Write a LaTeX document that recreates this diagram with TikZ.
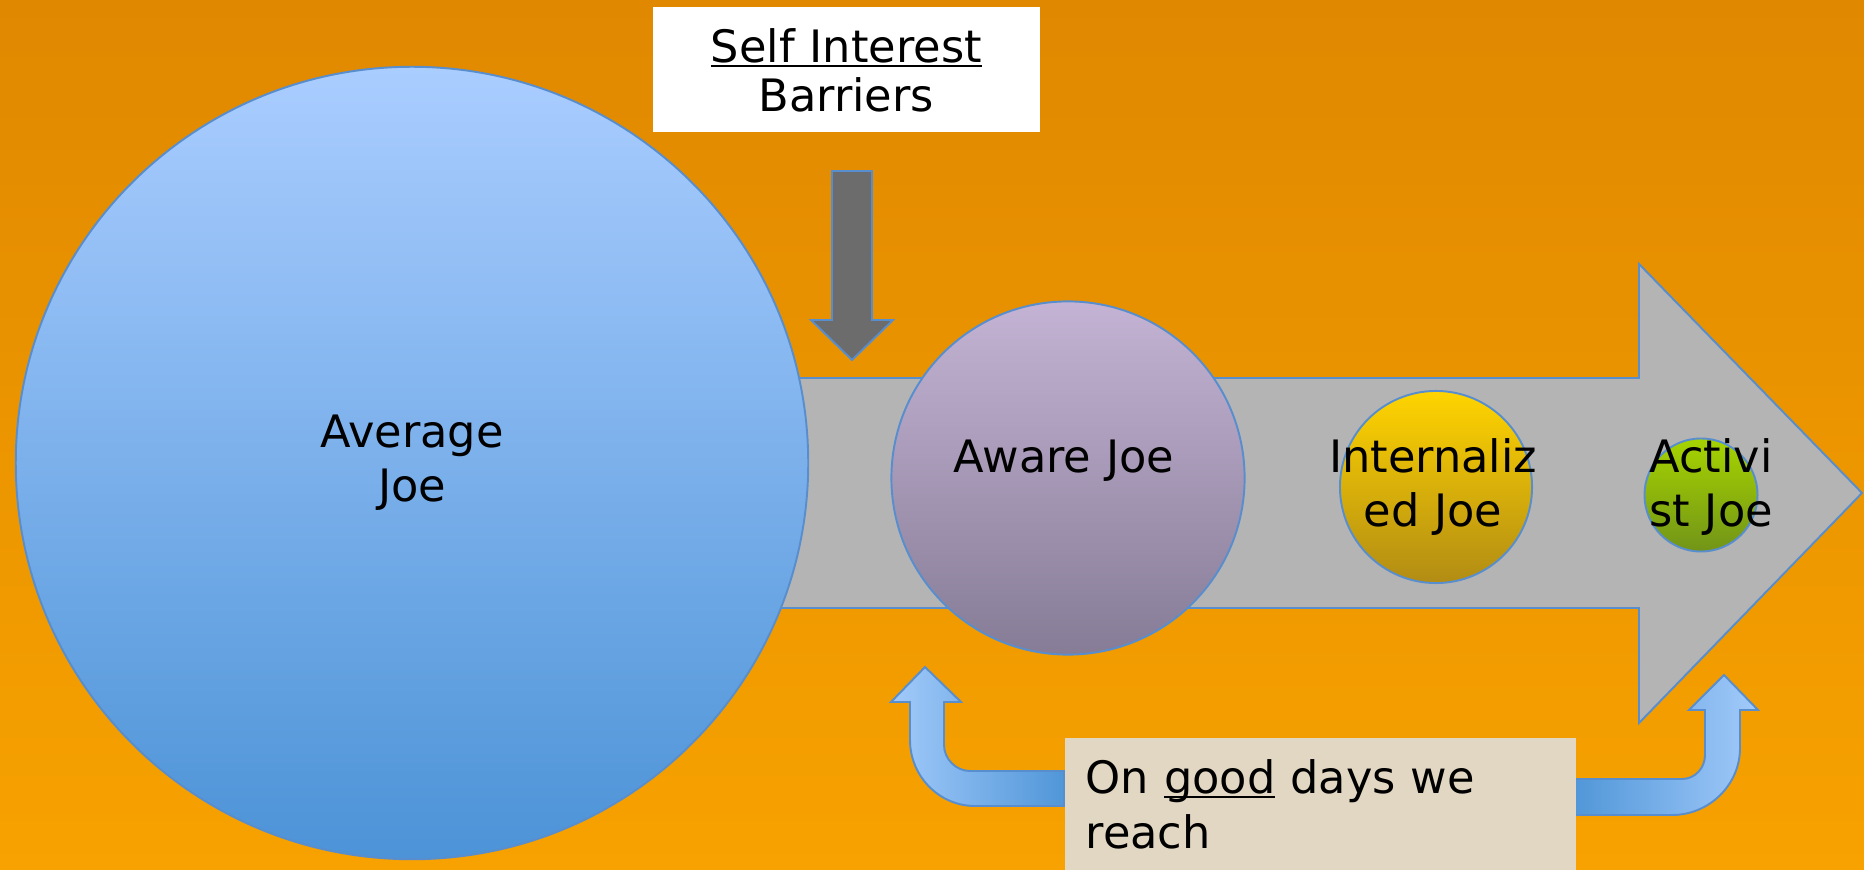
\documentclass[tikz,border=0pt]{standalone}
\usepackage{fontspec}
\setmainfont{DejaVu Sans}
\usepackage{tikz}
\usepackage{xcolor}

\definecolor{bgtop}{RGB}{224,136,0}
\definecolor{bgbottom}{RGB}{247,162,0}
\definecolor{edgeblue}{RGB}{88,142,205}
\definecolor{avgtop}{RGB}{170,205,255}
\definecolor{avgbottom}{RGB}{76,147,215}
\definecolor{awaretop}{RGB}{196,179,212}
\definecolor{awarebottom}{RGB}{134,124,150}
\definecolor{inttop}{RGB}{255,212,0}
\definecolor{intbottom}{RGB}{178,140,20}
\definecolor{acttop}{RGB}{166,212,0}
\definecolor{actbottom}{RGB}{114,148,24}
\definecolor{pathgray}{RGB}{180,180,180}
\definecolor{barriergray}{RGB}{108,108,108}
\definecolor{reachfill}{RGB}{226,215,194}
\definecolor{uplight}{RGB}{162,202,250}
\definecolor{updark}{RGB}{80,150,216}

\newcommand{\ulword}[1]{\setbox0\hbox{#1}\rlap{\rule[-1.1pt]{\wd0}{0.5pt}}\box0\relax}

\begin{document}
\begin{tikzpicture}[
    x=0.01cm, y=-0.01cm,
    outline/.style={draw=edgeblue, line width=0.55pt},
    joe/.style={circle, outline, inner sep=0pt},
    joetext/.style={font=\fontsize{12.7}{15.4}\selectfont, text width=3cm, align=center, anchor=base, inner sep=0pt},
    notebox/.style={anchor=north west, inner ysep=0.2cm, text height=0.36cm}
  ]
  \shade[top color=bgtop, bottom color=bgbottom] (0,0) rectangle (1864,870);
  \useasboundingbox (0,0) rectangle (1864,870);

  % pathway
  \draw[outline, fill=pathgray] (760,378) -- (1639,378) -- (1639,264) -- (1862,493)
    -- (1639,723) -- (1639,608) -- (760,608) -- cycle;

  % reach arrows
  \draw[outline, left color=uplight, right color=updark]
    (1064,771) -- (970,771) .. controls (956,771) and (944,759) .. (944,745)
    -- (944,702) -- (961,702) -- (925,667) -- (891,702) -- (910,702) -- (910,740)
    .. controls (910,776) and (939,806) .. (975,806) -- (1064,806) -- cycle;
  \draw[outline, left color=updark, right color=uplight]
    (1572,779) -- (1682,779) .. controls (1695,779) and (1705,768) .. (1705,755)
    -- (1705,710) -- (1689,710) -- (1724,675) -- (1758,710) -- (1740,710) -- (1740,748)
    .. controls (1740,785) and (1709,815) .. (1672,815) -- (1572,815) -- cycle;

  \node[joe, minimum size=7.92cm, top color=avgtop, bottom color=avgbottom] (average) at (412,463) {};
  \node[joe, minimum size=3.53cm, top color=awaretop, bottom color=awarebottom] (aware) at (1068,478) {};
  \node[joe, minimum size=1.92cm, top color=inttop, bottom color=intbottom] (internalized) at (1436,487) {};
  \node[joe, minimum size=1.13cm, top color=acttop, bottom color=actbottom] (activist) at (1701,495) {};

  \node[joetext] (averagetext) at (412,447) {Average\\Joe};
  \node[joetext] (awaretext) at (1064,472) {Aware Joe};
  \node[joetext] (internalizedtext) at (1433,472) {Internaliz\\ed Joe};
  \node[joetext] (activisttext) at (1711,472) {Activi\\st Joe};

  % barrier
  \draw[outline, fill=barriergray] (832,171) -- (872,171) -- (872,320) -- (893,320)
    -- (852,360) -- (811,320) -- (832,320) -- cycle;

  \node[notebox, fill=white, text width=3.87cm, inner xsep=0pt, align=center, text depth=0.49cm,
    font=\fontsize{12.7}{13.9}\selectfont] (barriers) at (652,6) {\ulword{Self Interest}\\Barriers};
  \node[notebox, fill=reachfill, text width=4.69cm, inner xsep=0.21cm, align=left, text depth=1cm,
    font=\fontsize{12.7}{15.6}\selectfont] (reach) at (1064,737) {On \ulword{good} days we\\reach};
\end{tikzpicture}
\end{document}
